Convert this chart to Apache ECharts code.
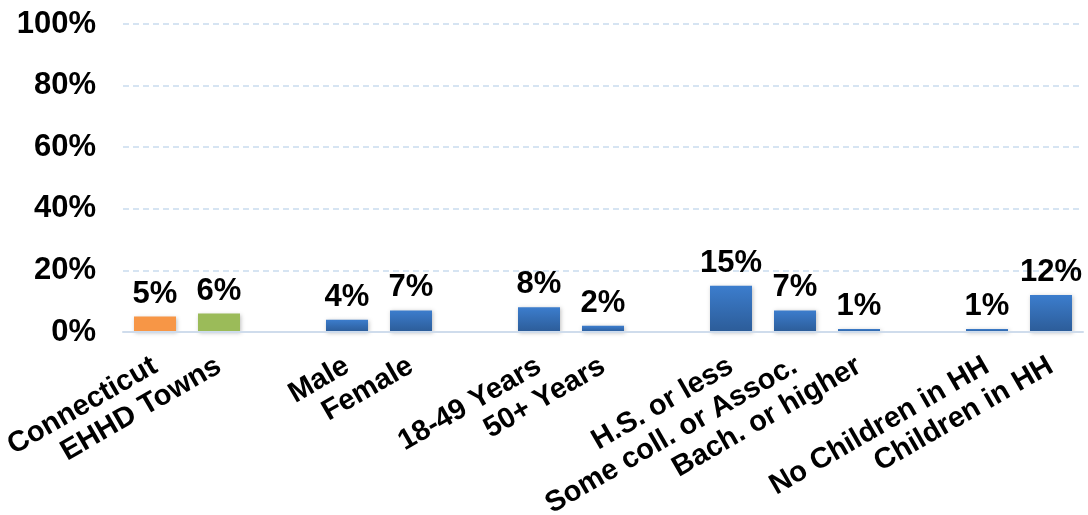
<!DOCTYPE html>
<html>
<head>
<meta charset="utf-8">
<script src="https://cdn.jsdelivr.net/npm/echarts@6/dist/echarts.min.js"></script>
<style>
  html, body { margin: 0; padding: 0; background: #ffffff; }
  #chart { width: 1088px; height: 515px; }
</style>
</head>
<body>
<div id="chart"></div>
<script>
// Empty names are spacer slots between demographic groups.
const categories = [
  'Connecticut', 'EHHD Towns', '',
  'Male', 'Female', '',
  '18-49 Years', '50+ Years', '',
  'H.S. or less', 'Some coll. or Assoc.', 'Bach. or higher', '',
  'No Children in HH', 'Children in HH'
];
const percentages = [5, 6, '-', 4, 7, '-', 8, 2, '-', 15, 7, 1, '-', 1, 12];
const yMin = 0;
const yMax = 100;
const yStep = 20;

const FONT = '"Liberation Sans", Arial, sans-serif';
const stateColor = '#f79646';
const townsColor = '#9bbb59';
const groupColor = new echarts.graphic.LinearGradient(0, 0, 0, 1, [
  { offset: 0, color: '#3c7dcd' },
  { offset: 1, color: '#2c5c98' }
]);

const barData = percentages.map(function (v, i) {
  if (v === '-') return '-';
  let color = groupColor;
  if (categories[i] === 'Connecticut') color = stateColor;
  else if (categories[i] === 'EHHD Towns') color = townsColor;
  return { value: v, itemStyle: { color: color } };
});

const chart = echarts.init(document.getElementById('chart'), null, { renderer: 'canvas' });
chart.setOption({
  backgroundColor: '#ffffff',
  animation: false,
  grid: {
    left: 123, right: 5, top: 24, bottom: 183,
    containLabel: false,
    outerBoundsMode: 'none'
  },
  xAxis: {
    type: 'category',
    data: categories,
    axisLine: { show: true, lineStyle: { color: '#cfdcec', width: 2 } },
    axisTick: { show: false },
    axisLabel: {
      interval: 0,
      rotate: 30,
      margin: 32,
      color: '#000000',
      fontFamily: FONT,
      fontWeight: 'bold',
      fontSize: 29
    },
    z: 3
  },
  yAxis: {
    type: 'value',
    min: yMin,
    max: yMax,
    interval: yStep,
    axisLine: { show: false },
    axisTick: { show: false },
    axisLabel: {
      formatter: '{value}%',
      margin: 27,
      color: '#000000',
      fontFamily: FONT,
      fontWeight: 'bold',
      fontSize: 31
    },
    splitLine: {
      show: true,
      lineStyle: { color: '#c9dbee', type: [6, 4], width: 1.5 }
    }
  },
  series: [{
    type: 'bar',
    data: barData,
    barWidth: 42,
    itemStyle: {
      shadowBlur: 4,
      shadowColor: 'rgba(0,0,0,0.25)',
      shadowOffsetX: 1,
      shadowOffsetY: 1
    },
    label: {
      show: true,
      position: 'top',
      distance: 7,
      formatter: '{c}%',
      color: '#000000',
      fontFamily: FONT,
      fontWeight: 'bold',
      fontSize: 31
    }
  }]
});
</script>
</body>
</html>
